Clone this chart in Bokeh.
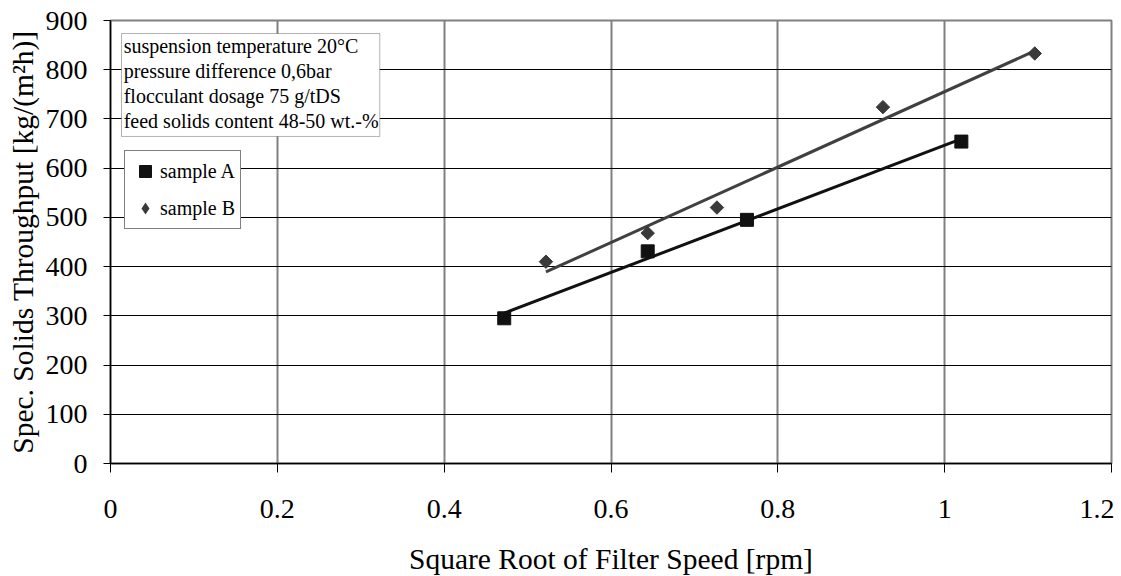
import numpy as np
from bokeh.plotting import figure
from bokeh.models import Range1d, FixedTicker, Legend, LegendItem, Label, BoxAnnotation
from bokeh.embed import file_html
from bokeh.resources import INLINE

# ---- data ----
a_x = [0.472, 0.644, 0.763, 1.020]
a_y = [295, 431, 495, 654]
b_x = [0.522, 0.644, 0.727, 0.926, 1.108]
b_y = [410, 468, 520, 724, 833]

x_ticks = [0, 0.2, 0.4, 0.6, 0.8, 1.0, 1.2]
x_tick_labels = ["0", "0.2", "0.4", "0.6", "0.8", "1", "1.2"]
y_ticks = [0, 100, 200, 300, 400, 500, 600, 700, 800, 900]

info_lines = [
    "suspension temperature 20°C",
    "pressure difference 0,6bar",
    "flocculant dosage 75 g/tDS",
    "feed solids content 48-50 wt.-%",
]

FONT = "Liberation Serif"

p = figure(width=1114, height=566, frame_width=1001, frame_height=443,
           x_range=Range1d(0, 1.2), y_range=Range1d(0, 900),
           output_backend="svg", toolbar_location=None,
           min_border_left=110, min_border_top=20, min_border_bottom=103, min_border_right=3)
p.background_fill_color = "white"
p.border_fill_color = "white"
p.outline_line_color = "#808080"
p.outline_line_width = 2

# axes
p.xaxis.ticker = FixedTicker(ticks=x_ticks)
p.xaxis.major_label_overrides = {t: l for t, l in zip(x_ticks, x_tick_labels)}
p.yaxis.ticker = FixedTicker(ticks=y_ticks)
p.xaxis.axis_label = "Square Root of Filter Speed [rpm]"
p.yaxis.axis_label = "Spec. Solids Throughput [kg/(m²h)]"
for ax in (p.xaxis[0], p.yaxis[0]):
    ax.axis_line_color = "black"
    ax.axis_line_width = 1.5
    ax.major_tick_line_color = "black"
    ax.major_tick_in = 0
    ax.minor_tick_line_color = None
    ax.major_label_text_font = FONT
    ax.major_label_text_font_size = "28px"
    ax.major_label_text_color = "black"
    ax.axis_label_text_font = FONT
    ax.axis_label_text_font_size = "29.5px"
    ax.axis_label_text_font_style = "normal"
    ax.axis_label_text_color = "black"
p.xaxis.major_tick_out = 9
p.yaxis.major_tick_out = 7
p.xaxis.major_label_standoff = 27
p.yaxis.major_label_standoff = 16
p.xaxis.axis_label_standoff = 22
p.yaxis.axis_label_standoff = 4

p.xgrid.grid_line_color = "#808080"
p.xgrid.grid_line_width = 2
p.ygrid.grid_line_color = "black"
p.ygrid.grid_line_width = 1.2

# trend lines (least squares)
ka, ca = np.polyfit(a_x, a_y, 1)
kb, cb = np.polyfit(b_x, b_y, 1)
ax_line = np.array([min(a_x), max(a_x)])
bx_line = np.array([min(b_x), max(b_x)])
p.line(ax_line, ka * ax_line + ca, line_color="#111111", line_width=3)
p.line(bx_line, kb * bx_line + cb, line_color="#404040", line_width=3)

ra = p.scatter(a_x, a_y, marker="square", size=13, fill_color="#111111", line_color="#111111")
rb = p.scatter(b_x, b_y, marker="square", size=9.5, angle=np.pi / 4,
               fill_color="#3a3a3a", line_color="#3a3a3a")
# legend key for sample B (diamond); zero size so it draws nothing in the plot
rb_key = p.scatter(b_x, b_y, marker="diamond", size=0, fill_color="#3a3a3a", line_color=None)

legend = Legend(items=[LegendItem(label="sample A", renderers=[ra]),
                       LegendItem(label="sample B", renderers=[rb_key])],
                location=(14, 234))
legend.label_text_font = FONT
legend.label_text_font_size = "20px"
legend.label_text_color = "black"
legend.border_line_color = "black"
legend.border_line_width = 1
legend.background_fill_color = "white"
legend.background_fill_alpha = 1
legend.padding = 5
legend.spacing = 7
legend.glyph_width = 30
legend.glyph_height = 30
legend.label_standoff = 0
legend.label_height = 30
legend.margin = 0
p.add_layout(legend)

# info box
box = BoxAnnotation(left=0.0132, right=0.3228, top=873.6, bottom=664.4,
                    fill_color="white", fill_alpha=1, line_color="black", line_width=1,
                    level="overlay")
p.add_layout(box)
info_y = [848, 798, 747, 695]
for txt, yy in zip(info_lines, info_y):
    p.add_layout(Label(x=0.0158, y=yy, text=txt, text_font=FONT, text_font_size="20px",
                       text_color="black", text_baseline="middle", level="overlay"))

open("out.html", "w").write(file_html(p, INLINE))
